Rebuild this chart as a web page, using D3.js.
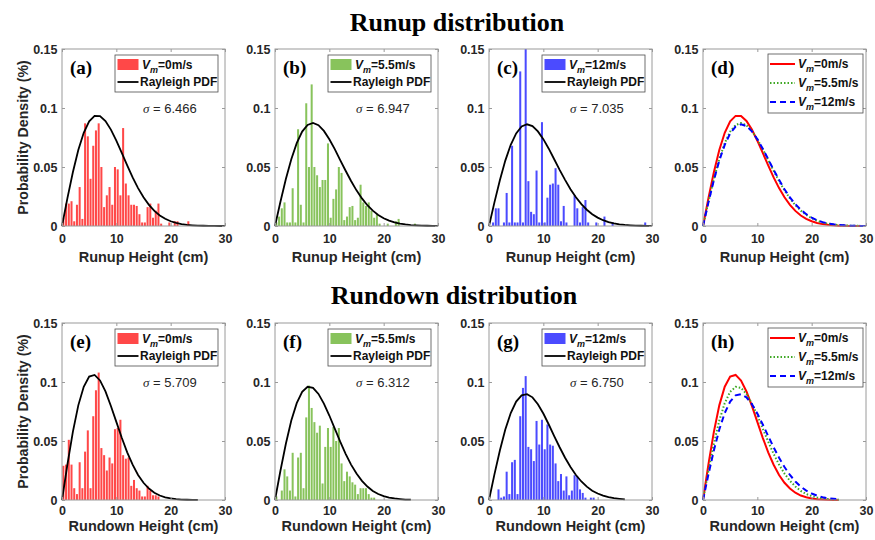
<!DOCTYPE html>
<html>
<head>
<meta charset="utf-8">
<script src="https://cdn.jsdelivr.net/npm/d3@7"></script>
<style>
  body { margin: 0; background: #fff; }
</style>
</head>
<body>
<div id="my_dataviz"></div>
<script>
// tick values
const xTicks = [0, 10, 20, 30];
const yTicks = [0, 0.05, 0.1, 0.15];
const yTickLabels = ["0", "0.05", "0.1", "0.15"];

// histogram bin width (cm), first bin starts at 0
const binWidth = 0.5;

const speeds = ["0", "5.5", "12"];
const runupSigma = ["6.466", "6.947", "7.035"];
const rundownSigma = ["5.709", "6.312", "6.750"];
const runupLabels = ["(a)", "(b)", "(c)", "(d)"];
const rundownLabels = ["(e)", "(f)", "(g)", "(h)"];

// runup histograms, one value per 0.5 cm bin
const runupHist0 = [0.007, 0.019, 0.019, 0.021, 0.004, 0.018, 0.033, 0.006, 0.087, 0.076,
  0.040, 0.068, 0.081, 0.087, 0.050, 0.016, 0.026, 0.033, 0.018, 0.050,
  0.048, 0.026, 0.083, 0.036, 0.026, 0.018, 0.018, 0.017, 0.010, 0.003,
  0.003, 0.016, 0.019, 0.007, 0.013, 0.019, 0.002, 0, 0, 0.003,
  0, 0.004, 0.004, 0, 0, 0, 0.004];
const runupHist55 = [0.003, 0.008, 0.015, 0.020, 0.003, 0.003, 0.032, 0.003, 0.082, 0.018,
  0.003, 0.104, 0.050, 0.120, 0.050, 0.043, 0.033, 0.039, 0.039, 0.070,
  0.007, 0.023, 0.031, 0.050, 0.045, 0.005, 0.008, 0.016, 0.017, 0.005,
  0.007, 0.035, 0.020, 0.017, 0.020, 0.013, 0.007, 0.010, 0.002, 0,
  0, 0.002, 0, 0, 0.004, 0.006, 0, 0, 0, 0,
  0, 0.002];
const runupHist12 = [0, 0.003, 0.015, 0.015, 0, 0.003, 0.028, 0.003, 0.068, 0.003,
  0.003, 0.131, 0.003, 0.150, 0.038, 0.012, 0.010, 0.047, 0.003, 0.088,
  0.003, 0.024, 0.035, 0.036, 0.049, 0.035, 0.004, 0.017, 0.003, 0,
  0, 0.026, 0.015, 0.003, 0.016, 0.022, 0.003, 0, 0, 0.003,
  0, 0, 0.008, 0, 0, 0.003, 0, 0, 0, 0,
  0, 0, 0, 0, 0, 0, 0, 0.003];

// rundown histograms
const rundownHist0 = [0.029, 0.030, 0.051, 0.030, 0.010, 0.005, 0.032, 0.010, 0.041, 0.059,
  0.010, 0.071, 0.093, 0.108, 0.044, 0.038, 0.025, 0.036, 0.031, 0.060,
  0.061, 0.068, 0.038, 0.035, 0.036, 0.012, 0.017, 0.010, 0.008, 0.003,
  0.003, 0.012, 0.008, 0.004, 0.004, 0.003];
const rundownHist55 = [0.003, 0, 0.008, 0.026, 0.020, 0.008, 0.040, 0.003, 0.036, 0.040,
  0.010, 0.070, 0.097, 0.078, 0.066, 0.057, 0.063, 0.014, 0.045, 0.061,
  0.045, 0.062, 0.050, 0.061, 0.031, 0.016, 0.024, 0.020, 0.015, 0.013,
  0.005, 0.010, 0.010, 0.010, 0.005, 0.002, 0.002];
const rundownHist12 = [0, 0, 0, 0.009, 0.002, 0.003, 0.024, 0.005, 0.032, 0.034,
  0.005, 0.071, 0.095, 0.105, 0.045, 0.043, 0.033, 0.067, 0.047, 0.068,
  0.043, 0.064, 0.047, 0.046, 0.031, 0.016, 0.022, 0.008, 0.020, 0.004,
  0.008, 0.021, 0.020, 0.009, 0.006, 0.002, 0, 0.002, 0.002];

// Rayleigh PDF curves read at 1 cm steps
const runupX = [0, 1, 2, 3, 4, 5, 6, 7, 8, 9, 10, 11, 12, 13, 14, 15, 16, 17, 18, 19, 20,
  21, 22, 23, 24, 25, 26, 27, 28, 29, 30];
const runupPdf0 = [0, 0.0236, 0.0456, 0.0644, 0.0790, 0.0887, 0.0933, 0.0932, 0.0890, 0.0817,
  0.0723, 0.0619, 0.0513, 0.0412, 0.0321, 0.0243, 0.0179, 0.0128, 0.0089, 0.0061,
  0.0040, 0.0026, 0.0016, 0.0010, 0.0006, 0.0003, 0.0002, 0.0001, 0.0001, 0, 0];
const runupPdf55 = [0, 0.0205, 0.0398, 0.0566, 0.0702, 0.0800, 0.0856, 0.0873, 0.0854, 0.0806,
  0.0735, 0.0651, 0.0559, 0.0468, 0.0381, 0.0302, 0.0234, 0.0176, 0.0130, 0.0094,
  0.0066, 0.0045, 0.0030, 0.0020, 0.0013, 0.0008, 0.0005, 0.0003, 0.0002, 0.0001, 0.0001];
const runupPdf12 = [0, 0.0200, 0.0388, 0.0554, 0.0688, 0.0785, 0.0843, 0.0862, 0.0847, 0.0802,
  0.0736, 0.0655, 0.0566, 0.0476, 0.0391, 0.0312, 0.0243, 0.0185, 0.0138, 0.0100,
  0.0071, 0.0049, 0.0033, 0.0022, 0.0014, 0.0009, 0.0006, 0.0003, 0.0002, 0.0001, 0.0001];

const rundownX = [0, 1, 2, 3, 4, 5, 6, 7, 8, 9, 10, 11, 12, 13, 14, 15, 16, 17, 18, 19, 20,
  21, 22, 23, 24, 25];
const rundownPdf0 = [0, 0.0302, 0.0577, 0.0802, 0.0960, 0.1046, 0.1060, 0.1013, 0.0920, 0.0797,
  0.0662, 0.0527, 0.0404, 0.0299, 0.0212, 0.0146, 0.0097, 0.0062, 0.0038, 0.0023,
  0.0013, 0.0007, 0.0004, 0.0002, 0.0001, 0.0001];
const rundownPdf55 = [0, 0.0248, 0.0477, 0.0673, 0.0821, 0.0917, 0.0959, 0.0950, 0.0899, 0.0817,
  0.0716, 0.0605, 0.0494, 0.0391, 0.0300, 0.0224, 0.0162, 0.0114, 0.0077, 0.0051,
  0.0033, 0.0021, 0.0013, 0.0008, 0.0004, 0.0003];
const rundownPdf12 = [0, 0.0217, 0.0420, 0.0597, 0.0737, 0.0834, 0.0887, 0.0897, 0.0870, 0.0812,
  0.0733, 0.0640, 0.0542, 0.0447, 0.0358, 0.0279, 0.0212, 0.0157, 0.0113, 0.0079,
  0.0055, 0.0037, 0.0024, 0.0015, 0.0010, 0.0006];

// layout
const width = 875, height = 540;
const panelX = [62, 275, 489, 703];
const rowY = [49, 323];
const pw = 163, ph = 177;

const sans = "'Liberation Sans', Arial, sans-serif";
const serif = "'Liberation Serif', 'Times New Roman', serif";
const histColors = ["#ff4848", "#88c35c", "#4b4bff"];
const lineColors = ["#ff0000", "#3fa824", "#0000ff"];
const lineDash = [null, "1.5,2", "6,4"];

const svg = d3.select("#my_dataviz")
  .append("svg")
  .attr("width", width)
  .attr("height", height)
  .style("font-family", sans);

const x = d3.scaleLinear().domain([0, 30]).range([0, pw]);
const y = d3.scaleLinear().domain([0, 0.15]).range([ph, 0]);

// V_m=..m/s legend text
function vmLabel(text, speed) {
  text.append("tspan").style("font-style", "italic").text("V");
  text.append("tspan").style("font-style", "italic").attr("font-size", 9).attr("dy", 4).text("m");
  text.append("tspan").attr("dy", -4).text("=" + speed + "m/s");
}

function drawAxes(g, row, showYLabel) {
  // ticks inside on all four sides
  g.append("g")
    .attr("transform", `translate(0, ${ph})`)
    .call(d3.axisBottom(x).tickValues(xTicks).tickSize(-3).tickPadding(row.tickPad));
  g.append("g")
    .call(d3.axisLeft(y).tickValues(yTicks).tickSize(-3).tickPadding(4.5)
      .tickFormat((d, i) => yTickLabels[i]));
  g.append("g").call(d3.axisTop(x).tickValues(xTicks).tickSize(-3).tickFormat(""));
  g.append("g")
    .attr("transform", `translate(${pw}, 0)`)
    .call(d3.axisRight(y).tickValues(yTicks).tickSize(-3).tickFormat(""));
  g.selectAll(".domain").remove();
  g.selectAll(".tick line").attr("stroke", "#9a9a9a");
  g.selectAll(".tick text")
    .attr("fill", "#262626")
    .attr("font-family", sans)
    .attr("font-weight", "bold")
    .attr("font-size", 12.5);

  g.append("rect")
    .attr("width", pw)
    .attr("height", ph)
    .attr("fill", "none")
    .attr("stroke", "#9a9a9a")
    .attr("stroke-width", 1);

  // Add X axis label
  g.append("text")
    .attr("x", pw / 2)
    .attr("y", row.labelY)
    .attr("text-anchor", "middle")
    .attr("font-weight", "bold")
    .attr("font-size", 14.5)
    .attr("fill", "#262626")
    .text(row.xLabel);

  if (showYLabel) {
    g.append("text")
      .attr("transform", `translate(-34, ${ph / 2}) rotate(-90)`)
      .attr("text-anchor", "middle")
      .attr("font-weight", "bold")
      .attr("font-size", 14.2)
      .attr("fill", "#262626")
      .text("Probability Density (%)");
  }
}

function panelLabel(g, label) {
  g.append("text")
    .attr("x", 8)
    .attr("y", 25)
    .attr("font-family", serif)
    .attr("font-weight", "bold")
    .attr("font-size", 19)
    .text(label);
}

function histPanel(g, hist, xs, pdf, k, sigma, label) {
  const bins = hist.map((v, i) => ({ x0: i * binWidth, v: v })).filter(d => d.v > 0);

  g.selectAll(".bar")
    .data(bins)
    .join("rect")
    .attr("class", "bar")
    .attr("x", d => x(d.x0) + 0.35)
    .attr("width", x(binWidth) - x(0) - 0.7)
    .attr("y", d => y(d.v))
    .attr("height", d => y(0) - y(d.v))
    .attr("fill", histColors[k]);

  const line = d3.line()
    .x((d, i) => x(xs[i]))
    .y(d => y(d));
  g.append("path")
    .datum(pdf)
    .attr("d", line)
    .attr("fill", "none")
    .attr("stroke", "#000")
    .attr("stroke-width", 1.8);

  panelLabel(g, label);

  // sigma text
  const st = g.append("text")
    .attr("x", 81)
    .attr("y", 64)
    .attr("font-size", 13)
    .attr("fill", "#262626");
  st.append("tspan").attr("font-family", serif).style("font-style", "italic").text("σ");
  st.append("tspan").text(" = " + sigma);
}

function histLegend(g, k) {
  const lg = g.append("g").attr("transform", `translate(${pw - 110}, 6)`);
  lg.append("rect")
    .attr("width", 103).attr("height", 37)
    .attr("fill", "#fff").attr("stroke", "#4d4d4d").attr("stroke-width", 0.8);
  lg.append("rect")
    .attr("x", 2.5).attr("y", 4).attr("width", 21).attr("height", 11)
    .attr("fill", histColors[k]);
  lg.append("line")
    .attr("x1", 2.5).attr("x2", 23.5).attr("y1", 27).attr("y2", 27)
    .attr("stroke", "#000").attr("stroke-width", 1.8);
  const t1 = lg.append("text")
    .attr("x", 27).attr("y", 14)
    .attr("font-weight", "bold").attr("font-size", 12).attr("fill", "#111");
  vmLabel(t1, speeds[k]);
  lg.append("text")
    .attr("x", 25).attr("y", 31)
    .attr("font-weight", "bold").attr("font-size", 12).attr("fill", "#111")
    .text("Rayleigh PDF");
}

function curvePanel(g, xs, pdfs, label) {
  pdfs.forEach((pdf, k) => {
    const line = d3.line()
      .x((d, i) => x(xs[i]))
      .y(d => y(d));
    g.append("path")
      .datum(pdf)
      .attr("d", line)
      .attr("fill", "none")
      .attr("stroke", lineColors[k])
      .attr("stroke-width", 2)
      .attr("stroke-dasharray", lineDash[k]);
  });
  panelLabel(g, label);
}

function curveLegend(g) {
  const lg = g.append("g").attr("transform", `translate(65, 5)`);
  lg.append("rect")
    .attr("width", 95).attr("height", 59)
    .attr("fill", "#fff").attr("stroke", "#4d4d4d").attr("stroke-width", 0.8);
  speeds.forEach((s, k) => {
    const ly = 10 + k * 19;
    lg.append("line")
      .attr("x1", 2).attr("x2", 27).attr("y1", ly).attr("y2", ly)
      .attr("stroke", lineColors[k]).attr("stroke-width", 2)
      .attr("stroke-dasharray", lineDash[k]);
    const t = lg.append("text")
      .attr("x", 30).attr("y", ly + 4)
      .attr("font-weight", "bold").attr("font-size", 12).attr("fill", "#111");
    vmLabel(t, s);
  });
}

// rows: runup on top, rundown below
const rows = [
  { hists: [runupHist0, runupHist55, runupHist12], xs: runupX,
    pdfs: [runupPdf0, runupPdf55, runupPdf12], sigma: runupSigma,
    labels: runupLabels, xLabel: "Runup Height (cm)", labelY: ph + 36, tickPad: 8 },
  { hists: [rundownHist0, rundownHist55, rundownHist12], xs: rundownX,
    pdfs: [rundownPdf0, rundownPdf55, rundownPdf12], sigma: rundownSigma,
    labels: rundownLabels, xLabel: "Rundown Height (cm)", labelY: ph + 31, tickPad: 6.5 }
];

rows.forEach((row, r) => {
  for (let c = 0; c < 4; c++) {
    const g = svg.append("g")
      .attr("transform", `translate(${panelX[c]}, ${rowY[r]})`);
    if (c < 3) {
      histPanel(g, row.hists[c], row.xs, row.pdfs[c], c, row.sigma[c], row.labels[c]);
    } else {
      curvePanel(g, row.xs, row.pdfs, row.labels[c]);
    }
    drawAxes(g, row, c === 0);
    // legend goes on top of the box
    if (c < 3) histLegend(g, c);
    else curveLegend(g);
  }
});

// row titles
svg.append("text")
  .attr("x", 457)
  .attr("y", 31)
  .attr("text-anchor", "middle")
  .attr("font-family", serif)
  .attr("font-weight", "bold")
  .attr("font-size", 26)
  .text("Runup distribution");

svg.append("text")
  .attr("x", 454)
  .attr("y", 304)
  .attr("text-anchor", "middle")
  .attr("font-family", serif)
  .attr("font-weight", "bold")
  .attr("font-size", 26)
  .text("Rundown distribution");
</script>
</body>
</html>
